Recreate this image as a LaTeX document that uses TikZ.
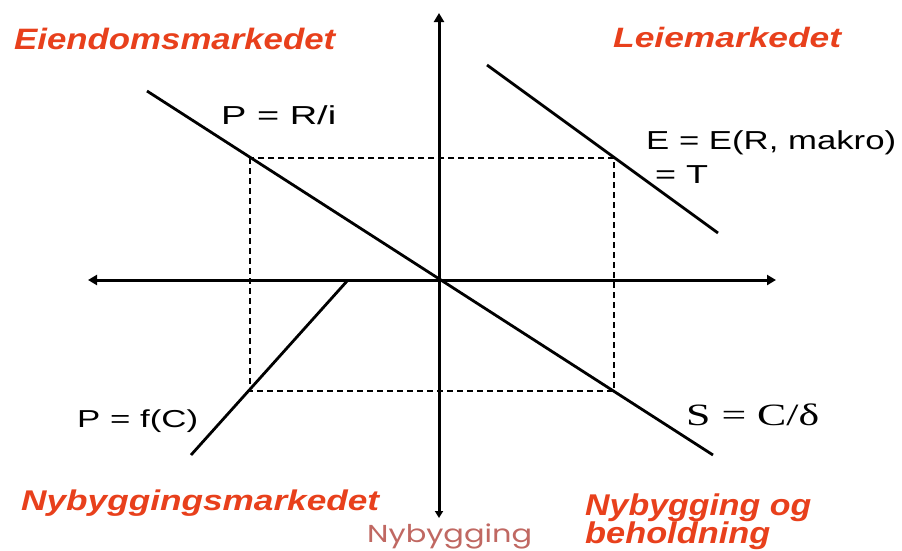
\documentclass[tikz,border=0pt]{standalone}
\usepackage{fontspec}
\usepackage{graphicx}
\setmainfont{Liberation Sans}
\newfontfamily\serifx{Liberation Serif}
\newfontfamily\popx{Poppins}
\usetikzlibrary{arrows.meta}
\definecolor{titlered}{RGB}{232,64,28}
\definecolor{nyred}{RGB}{192,104,98}
\newcommand{\fw}[2]{\resizebox{#1}{\height}{#2}}
\newcommand{\fsz}[1]{\fontsize{#1}{#1}\selectfont}
\tikzset{
  axis/.style={line width=3pt, -{Triangle[length=9pt,width=10pt]}},
  curve/.style={line width=2.8pt},
  guide/.style={line width=1.3pt, dash pattern=on 6pt off 4pt},
  lbl/.style={inner sep=0pt, anchor=base west, text=black},
  title/.style={inner sep=0pt, anchor=base west, text=titlered, font=\bfseries\itshape},
}
\begin{document}
\begin{tikzpicture}[x=1pt,y=-1pt]
\useasboundingbox (0,0) rectangle (902,550);
% coordinates
\coordinate (O) at (439,280);
\coordinate (vtop) at (439,13);
\coordinate (vbot) at (439,518);
\coordinate (hleft) at (88,280);
\coordinate (hright) at (776,280);
\coordinate (prA) at (147,91);
\coordinate (prB) at (713,455);
\coordinate (eA) at (487,65);
\coordinate (eB) at (718,233);
\coordinate (fA) at (348,280);
\coordinate (fB) at (191,455);
\coordinate (r1) at (250,158);
\coordinate (r2) at (614,391);
% dashed rectangle
\draw[guide] (r1) rectangle (r2);
% axes
\draw[axis] (O) -- (vtop);
\draw[axis,-{Triangle[length=7pt,width=8pt]}] (O) -- (vbot);
\draw[axis] (O) -- (hleft);
\draw[axis] (O) -- (hright);
% curves
\draw[curve] (prA) -- (prB);
\draw[curve] (eA) -- (eB);
\draw[curve] (fA) -- (fB);
% titles
\node[title] (t1) at (14,49.5) {\fw{321pt}{\fsz{29.5}Eiendomsmarkedet}};
\node[title] (t2) at (613,47) {\fw{228pt}{\fsz{28}Leiemarkedet}};
\node[title] (t3) at (21,510) {\fw{358pt}{\fsz{28.5}Nybyggingsmarkedet}};
\node[title] (t4) at (585,515) {\fw{226pt}{\fsz{30}Nybygging og}};
\node[title] (t5) at (585,543) {\fw{185pt}{\fsz{30}beholdning}};
% labels
\node[lbl] (l1) at (221,124) {\fw{115pt}{\fsz{26}P = R/i}};
\node[lbl] (l2) at (646,149) {\fw{250pt}{\fsz{26}E = E(R, makro)}};
\node[lbl] (l3) at (655,183) {\fw{53pt}{\fsz{26}= T}};
\node[lbl] (l4) at (77,427) {\fw{121pt}{\fsz{24.5}P = f(C)}};
\node[lbl] (l5) at (686,425) {\fw{133pt}{\serifx\fsz{31}S = C/δ}};
\node[lbl, text=nyred] (l6) at (367,542.5) {\fw{165pt}{\popx\fsz{24.5}Nybygging}};
\end{tikzpicture}
\end{document}
